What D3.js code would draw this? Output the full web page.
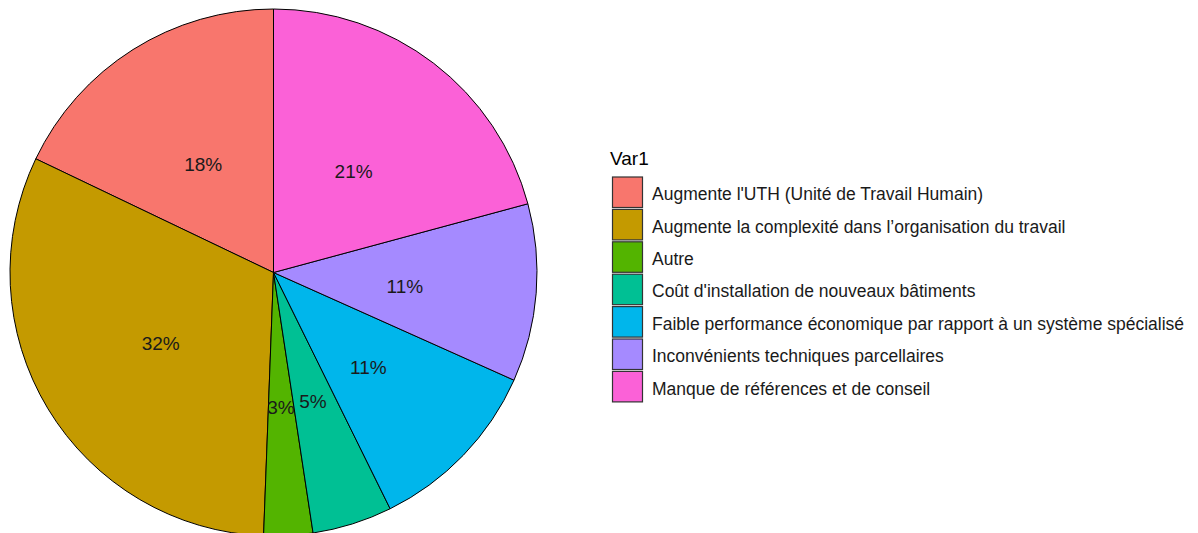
<!DOCTYPE html>
<html><head><meta charset="utf-8">
<script src="https://cdn.jsdelivr.net/npm/d3@7"></script>
<style>body{margin:0;background:#fff;}svg{display:block;font-family:"Liberation Sans",Arial,sans-serif;}</style>
</head><body>
<svg id="c" width="1198" height="533"></svg>
<script>
const categories = [
  "Augmente l'UTH (Unité de Travail Humain)",
  "Augmente la complexité dans l’organisation du travail",
  "Autre",
  "Coût d'installation de nouveaux bâtiments",
  "Faible performance économique par rapport à un système spécialisé",
  "Inconvénients techniques parcellaires",
  "Manque de références et de conseil"
];
const values = [17.9, 31.5, 3.0, 4.9, 11.0, 10.9, 20.8];
const labels = ["18%", "32%", "3%", "5%", "11%", "11%", "21%"];
const colors = ["#F8766D", "#C49A00", "#53B400", "#00C094", "#00B6EB", "#A58AFF", "#FB61D7"];
const legendTitle = "Var1";

const svg = d3.select("#c");
const cx = 273.5, cy = 272.5, R = 263.5;
const color = d3.scaleOrdinal().domain(categories).range(colors);
const data = categories.map((c, i) => ({cat: c, value: values[i], label: labels[i]}));

// counter-clockwise from 12 o'clock
const pie = d3.pie().sort(null).value(d => d.value)
  .startAngle(0).endAngle(-2 * Math.PI);
const arcs = pie(data);
const arc = d3.arc().innerRadius(0).outerRadius(R);
const labelArc = d3.arc().innerRadius(R / 2).outerRadius(R / 2);

const g = svg.append("g").attr("transform", `translate(${cx},${cy})`);
g.selectAll("path").data(arcs).join("path")
  .attr("d", arc)
  .attr("fill", d => color(d.data.cat))
  .attr("stroke", "#000").attr("stroke-width", 1);

g.selectAll("text").data(arcs).join("text")
  .attr("transform", d => { const c = labelArc.centroid(d); return `translate(${c[0]},${c[1] + 2.5})`; })
  .attr("text-anchor", "middle").attr("dy", "0.38em")
  .attr("font-size", 19).attr("fill", "#1a1a1a")
  .text(d => d.data.label);

// legend
const lg = svg.append("g").attr("transform", "translate(610,0)");
lg.append("text").attr("x", 0).attr("y", 165).attr("font-size", 19).attr("fill", "#000").text(legendTitle);
const y = d3.scaleBand().domain(categories).range([176.5, 176.5 + 32.4 * categories.length]).paddingInner(0);
const rows = lg.selectAll("g.row").data(categories).join("g").attr("class", "row")
  .attr("transform", d => `translate(0,${y(d)})`);
rows.append("rect").attr("x", 2.5).attr("y", 0.5).attr("width", 30).attr("height", 30.5)
  .attr("fill", d => color(d)).attr("stroke", "#333").attr("stroke-width", 1.2);
rows.append("text").attr("x", 42).attr("y", 17.5).attr("dy", "0.36em")
  .attr("font-size", 17.5).attr("fill", "#1a1a1a").text(d => d);
</script>
</body></html>
